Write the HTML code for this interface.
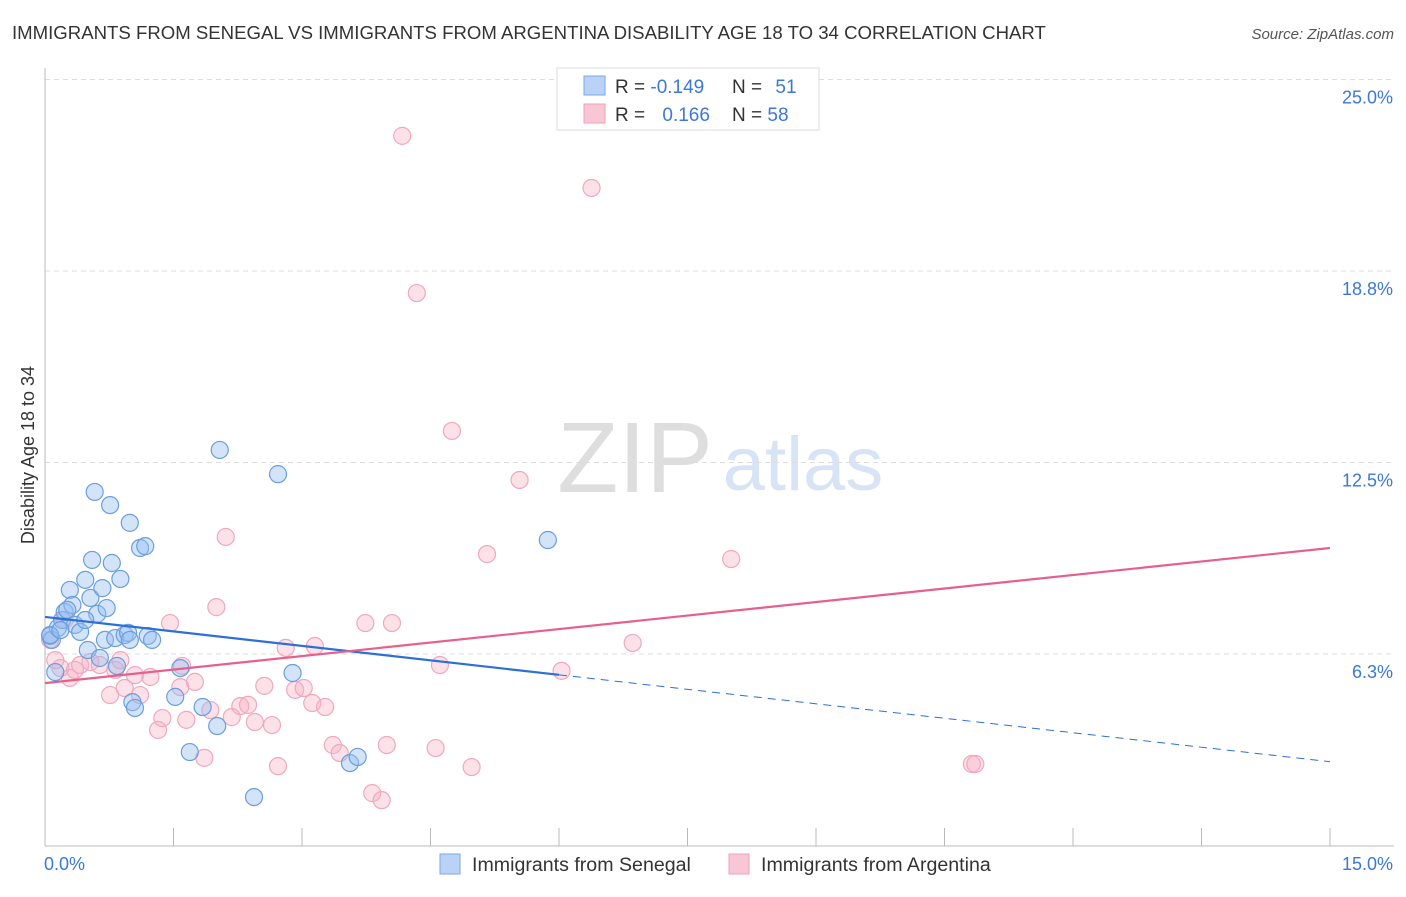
<!DOCTYPE html>
<html><head><meta charset="utf-8"><style>
body{margin:0;background:#fff;font-family:"Liberation Sans",sans-serif;}
svg text{font-family:"Liberation Sans",sans-serif;}
</style></head><body>
<svg id="chart" width="1406" height="892" xmlns="http://www.w3.org/2000/svg">
<text x="12" y="39" font-size="18.6" fill="#333">IMMIGRANTS FROM SENEGAL VS IMMIGRANTS FROM ARGENTINA DISABILITY AGE 18 TO 34 CORRELATION CHART</text>
<text x="1394" y="39" font-size="15" fill="#555" text-anchor="end" font-style="italic">Source: ZipAtlas.com</text>
<g>
<text x="635" y="492" font-size="100" fill="#dedede" text-anchor="middle" font-family="Liberation Serif">ZIP</text>
<text x="803" y="490" font-size="76" fill="#d6e4f6" text-anchor="middle">atlas</text>
</g>
<g id="grid"></g><g id="axes"></g><g id="marks"></g><g id="trends"></g>
<g>
<rect x="557" y="68" width="262" height="62" fill="#fff" stroke="#ddd"/>
<rect x="584" y="76" width="21" height="19" fill="#b8d3f5" stroke="#7aa8e6"/>
<rect x="584" y="104" width="21" height="19" fill="#f9c6d6" stroke="#eea2bb"/>
<text x="615" y="93" font-size="19" fill="#333">R = <tspan fill="#3b78d8">-0.149</tspan></text>
<text x="732" y="93" font-size="19" fill="#333">N = <tspan fill="#3b78d8" dx="8">51</tspan></text>
<text x="615" y="121" font-size="19" fill="#333">R = <tspan fill="#3b78d8" dx="12">0.166</tspan></text>
<text x="732" y="121" font-size="19" fill="#333">N = <tspan fill="#3b78d8">58</tspan></text>
</g>
<g>
<rect x="440" y="854" width="20" height="20" fill="#b8d3f5" stroke="#7aa8e6"/>
<text x="472" y="871" font-size="19.6" fill="#333">Immigrants from Senegal</text>
<rect x="729" y="854" width="20" height="20" fill="#f9c6d6" stroke="#eea2bb"/>
<text x="761" y="871" font-size="19.6" fill="#333">Immigrants from Argentina</text>
</g>
<text x="44" y="870" font-size="18" fill="#3b78d8">0.0%</text>
<text x="1393" y="870" font-size="18" fill="#3b78d8" text-anchor="end">15.0%</text>
<text transform="translate(34,455) rotate(-90)" font-size="18" fill="#333" text-anchor="middle">Disability Age 18 to 34</text>
</svg>
<script>
const yTicks=[6.25,12.5,18.75,25];
const yTickLabels=["6.3%","12.5%","18.8%","25.0%"];
const senegalX=[0.06,0.08,0.12,0.15,0.20,0.23,0.29,0.32,0.26,0.35,0.41,0.47,0.50,0.53,0.55,0.58,0.61,0.64,0.67,0.70,0.72,0.76,0.78,0.82,0.84,0.88,0.93,0.97,0.99,1.02,1.05,1.11,1.17,1.20,1.25,1.52,1.58,1.69,1.84,2.01,2.04,2.44,2.72,2.89,3.56,3.65,5.87,0.06,0.18,0.99,0.47];
const senegalY=[6.84,6.71,5.66,7.10,7.36,7.62,8.34,7.85,7.69,7.20,6.97,8.67,6.38,8.08,9.32,11.54,7.56,6.12,8.40,6.71,7.75,11.11,9.22,6.77,5.86,8.70,6.87,6.94,10.53,4.68,4.49,9.71,9.77,6.84,6.71,4.85,5.79,3.05,4.52,3.90,12.91,1.58,12.12,5.63,2.69,2.89,9.97,6.87,7.03,6.71,7.36];
const argX=[0.06,0.12,0.18,0.23,0.29,0.35,0.41,0.53,0.64,0.76,0.82,0.88,0.93,1.05,1.11,1.23,1.32,1.37,1.46,1.58,1.60,1.65,1.75,1.86,1.93,2.00,2.11,2.18,2.28,2.37,2.45,2.56,2.65,2.72,2.81,2.92,3.02,3.12,3.15,3.27,3.36,3.44,3.74,3.82,3.93,3.99,4.05,4.17,4.34,4.56,4.61,4.75,4.98,5.16,5.54,6.03,6.38,6.86,8.01,10.82,10.86];
const argY=[6.71,6.05,5.79,7.36,5.47,5.73,5.89,5.99,5.89,4.91,5.73,6.05,5.14,5.56,4.91,5.50,3.77,4.16,7.26,5.17,5.86,4.10,5.34,2.86,4.42,7.78,10.07,4.19,4.55,4.59,4.03,5.21,3.93,2.59,6.45,5.08,5.14,4.65,6.51,4.52,3.28,3.02,7.26,1.71,1.48,3.28,7.26,23.16,18.03,3.18,5.89,13.53,2.56,9.51,11.93,5.70,21.46,6.61,9.35,2.66,2.66];
const senegalTrend=[7.46,-0.315];
const argTrend=[5.30,0.294];
const NS="http://www.w3.org/2000/svg";
const X=v=>45+v*(1285/15);
const Y=v=>654-(v-6.25)*(191.5/6.25);
function mk(t,a,p){const e=document.createElementNS(NS,t);for(const k in a)e.setAttribute(k,a[k]);document.getElementById(p).appendChild(e);return e;}
yTicks.forEach((t,i)=>{
 const l=mk('line',{x1:45,x2:1394,y1:Y(t),y2:Y(t),stroke:'#ddd','stroke-dasharray':'5,4'},'grid');
 
 
 const tx=mk('text',{x:1393,y:Y(t)+24,'font-size':18,fill:'#3b78d8','text-anchor':'end'},'grid');
 tx.textContent=yTickLabels[i];
 
 
});
const ax=mk('line',{x1:45,x2:45,y1:68,y2:846,stroke:'#bbb'},'axes');


const bx=mk('line',{x1:45,x2:1394,y1:846,y2:846,stroke:'#bbb'},'axes');


for(let i=0;i<=10;i++){const t=mk('line',{x1:X(i*1.5),x2:X(i*1.5),y1:828,y2:846,stroke:'#bbb'},'axes');
 
 }
argX.forEach((x,i)=>{const c=mk('circle',{cx:X(x),cy:Y(argY[i]),r:8.5,fill:'rgba(248,175,198,0.38)',stroke:'#f0a8be','stroke-width':1.2},'marks');
 
 });
senegalX.forEach((x,i)=>{const c=mk('circle',{cx:X(x),cy:Y(senegalY[i]),r:8.5,fill:'rgba(150,190,240,0.42)',stroke:'#6a9edf','stroke-width':1.2},'marks');
 
 });
const f=(tr,x)=>tr[0]+tr[1]*x;
const l1=mk('line',{x1:X(0),y1:Y(f(senegalTrend,0)),x2:X(6),y2:Y(f(senegalTrend,6)),stroke:'#2c6fd6','stroke-width':2.2},'trends');


const l2=mk('line',{x1:X(6),y1:Y(f(senegalTrend,6)),x2:X(15),y2:Y(f(senegalTrend,15)),stroke:'#2c6fd6','stroke-width':1,'stroke-dasharray':'8,6'},'trends');


const l3=mk('line',{x1:X(0),y1:Y(f(argTrend,0)),x2:X(15),y2:Y(f(argTrend,15)),stroke:'#e8608a','stroke-width':2.2},'trends');


</script>
</body></html>
